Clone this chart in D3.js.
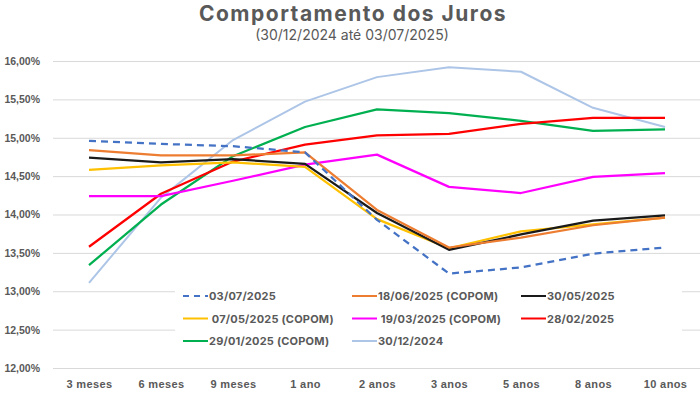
<!DOCTYPE html>
<html>
<head>
<meta charset="utf-8">
<script src="https://cdn.jsdelivr.net/npm/d3@7"></script>
<style>
body{margin:0;background:#fff;}
svg{display:block;font-family:Inter, "Open Sans", sans-serif;}
</style>
</head>
<body>
<svg width="700" height="398"></svg>
<script>

// vencimentos (eixo x)
var categories=["3 meses","6 meses","9 meses","1 ano","2 anos","3 anos","5 anos","8 anos","10 anos"];
var yTicks=[12,12.5,13,13.5,14,14.5,15,15.5,16];

// curvas de juros, % a.a.
var s20250703=[14.96,14.92,14.89,14.81,13.93,13.23,13.31,13.49,13.57];
var s20250618=[14.84,14.77,14.77,14.81,14.06,13.57,13.70,13.86,13.96];
var s20250530=[14.74,14.68,14.72,14.66,14.02,13.54,13.74,13.92,13.99];
var s20250507=[14.58,14.64,14.68,14.62,13.94,13.56,13.78,13.87,13.96];
var s20250319=[14.24,14.24,14.44,14.65,14.78,14.36,14.28,14.49,14.54];
var s20250228=[13.58,14.27,14.69,14.91,15.03,15.05,15.18,15.26,15.26];
var s20250129=[13.34,14.13,14.76,15.14,15.37,15.32,15.22,15.09,15.11];
var s20241230=[13.11,14.22,14.97,15.47,15.79,15.92,15.86,15.39,15.14];

var seriesNames=["03/07/2025","18/06/2025 (COPOM)","30/05/2025"," 07/05/2025 (COPOM)"," 19/03/2025 (COPOM)","28/02/2025","29/01/2025 (COPOM)","30/12/2024"];
var seriesValues=[s20250703,s20250618,s20250530,s20250507,s20250319,s20250228,s20250129,s20241230];
var seriesColors=["#4472c4","#ed7d31","#1a1a1a","#ffc000","#ff00ff","#ff0000","#00b050","#adc5e7"];

var svg=d3.select("svg"),
    plotL=53, plotR=701, plotT=61, plotB=368;

var x=d3.scalePoint().domain(categories).range([plotL,plotR]).padding(0.5);
var y=d3.scaleLinear().domain([12,16]).range([plotB,plotT]);

var fmt=function(v){ return d3.format(".2f")(v).replace(".",",")+"%"; };

// titulo
svg.append("text")
  .attr("x",353).attr("y",21)
  .attr("text-anchor","middle")
  .style("font-size","21px").style("font-weight","700")
  .style("letter-spacing","1.5px")
  .attr("fill","#595959")
  .text("Comportamento dos Juros");
svg.append("text")
  .attr("x",352).attr("y",40)
  .attr("text-anchor","middle")
  .style("font-size","14px")
  .attr("fill","#595959")
  .text("(30/12/2024 até 03/07/2025)");

// grade + eixo y
var yAxis=svg.append("g")
  .attr("transform","translate("+plotL+",0)")
  .call(d3.axisLeft(y).tickValues(yTicks).tickSize(-(plotR-plotL)).tickFormat(fmt));
yAxis.select(".domain").remove();
yAxis.selectAll(".tick line").attr("stroke","#d9d9d9").attr("stroke-width",1);
yAxis.selectAll(".tick text")
  .attr("x",-13).attr("fill","#595959")
  .style("font-size","10.5px").style("font-weight","700");

// eixo x
var xAxis=svg.append("g")
  .attr("transform","translate(0,"+plotB+")")
  .call(d3.axisBottom(x).tickSize(0));
xAxis.select(".domain").remove();
xAxis.selectAll(".tick text")
  .attr("y",12).attr("fill","#595959")
  .style("font-size","11px").style("font-weight","700")
  .style("letter-spacing","0.4px");

// fundo da legenda cobre a grade
svg.append("rect")
  .attr("x",175).attr("y",284).attr("width",507).attr("height",68)
  .attr("fill","#fff");

var line=d3.line()
  .x(function(d,i){ return x(categories[i]); })
  .y(function(d){ return y(d); });

// desenha do ultimo para o primeiro (03/07 por cima)
for(var k=seriesValues.length-1;k>=0;k--){
  svg.append("path")
    .attr("d",line(seriesValues[k]))
    .attr("fill","none")
    .attr("stroke",seriesColors[k])
    .attr("stroke-width",k==7?2:2.25)
    .attr("stroke-linejoin","round")
    .attr("stroke-dasharray",k==0?"7,5":null);
}

// legenda
var colX=[183,352,521], rowY=[296,318.5,341];
seriesNames.forEach(function(n,i){
  var lx=colX[i%3], ly=rowY[Math.floor(i/3)];
  svg.append("line")
    .attr("x1",lx).attr("x2",lx+25)
    .attr("y1",ly).attr("y2",ly)
    .attr("stroke",seriesColors[i])
    .attr("stroke-width",2)
    .attr("stroke-dasharray",i==0?"6,5":null);
  svg.append("text")
    .attr("x",lx+26).attr("y",ly+4)
    .attr("fill","#595959")
    .style("font-size","11px").style("font-weight","700")
    .style("letter-spacing","0.2px")
    .style("white-space","pre")
    .text(n);
});

</script>
</body>
</html>
